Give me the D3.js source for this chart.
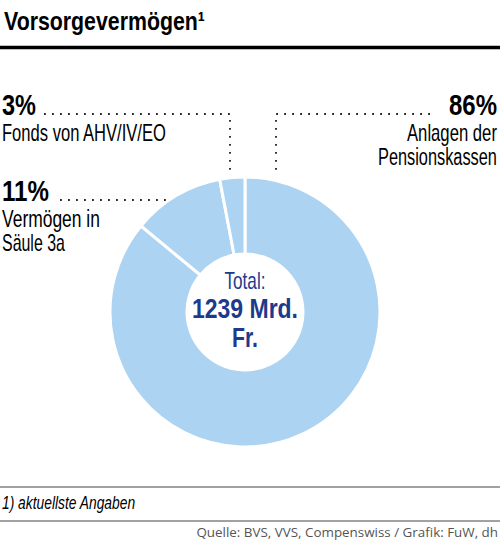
<!DOCTYPE html>
<html>
<head>
<meta charset="utf-8">
<script src="https://cdn.jsdelivr.net/npm/d3@7"></script>
<style>
  body { margin: 0; background: #fff; }
  svg { display: block; }
  .cond { font-family: "Liberation Sans", Arial, sans-serif; }
</style>
</head>
<body>
<svg id="chart" width="500" height="545"></svg>
<script>
// data
const categories = ["Anlagen der Pensionskassen", "Vermögen in Säule 3a", "Fonds von AHV/IV/EO"];
const shares = [86, 11, 3];
const labelLines = [["Anlagen der", "Pensionskassen"], ["Vermögen in", "Säule 3a"], ["Fonds von AHV/IV/EO"]];
const totalLines = ["Total:", "1239 Mrd.", "Fr."];

const W = 500, H = 545;
const cx = 245, cy = 312, rOuter = 135, rInner = 58;
const blue = "#acd3f1", navy = "#1e3a8c";

const svg = d3.select("#chart");

// condensed look: squeeze a regular font horizontally to the width measured on the original
function condText(parent, x, y, str, size, bold, anchor, width) {
    let t = parent.append("text")
        .attr("class", "cond")
        .style("font-size", size + "px")
        .style("font-weight", bold ? "bold" : "normal")
        .text(str);
    let natural = t.node().getComputedTextLength();
    let sx = width / natural;
    let x0 = x;
    if (anchor === "end") x0 = x - width;
    if (anchor === "middle") x0 = x - width / 2;
    t.attr("transform", "translate(" + x0 + "," + y + ") scale(" + sx + ",1)");
    return t;
}

// title
condText(svg, 4, 30, "Vorsorgevermögen¹", 25, true, "start", 201);

svg.append("line")
    .attr("x1", 0).attr("x2", W)
    .attr("y1", 47.5).attr("y2", 47.5)
    .style("stroke", "#000").style("stroke-width", 3.5);

// donut
let pie = d3.pie().sort(null).value(d => d);
let arc = d3.arc().innerRadius(rInner).outerRadius(rOuter);

let g = svg.append("g").attr("transform", "translate(" + cx + "," + cy + ")");

g.selectAll("path")
    .data(pie(shares))
    .enter().append("path")
    .attr("d", arc)
    .style("fill", blue)
    .style("stroke", "#fff")
    .style("stroke-width", 3);

// centre text
condText(g, 0, -23, totalLines[0], 23, false, "middle", 41).style("fill", navy);
condText(g, 0, 6, totalLines[1], 28, true, "middle", 106).style("fill", navy);
condText(g, 0, 35, totalLines[2], 28, true, "middle", 26).style("fill", navy);

// labels: index into shares, anchor and leader geometry
const labels = [
    {i: 2, x: 2, y: 115, anchor: "start", pctW: 34, lineW: [164], lineX0: 44, lineX1: 230, vertical: true},
    {i: 1, x: 2, y: 201, anchor: "start", pctW: 47, lineW: [98, 63], lineX0: 60, lineX1: 166, vertical: false},
    {i: 0, x: 497, y: 115, anchor: "end", pctW: 48, lineW: [90, 119], lineX0: 430, lineX1: 276, vertical: true}
];

function circleY(x) {
    let dx = x - cx;
    return cy - Math.sqrt(rOuter * rOuter - dx * dx);
}

labels.forEach(function (l) {
    condText(svg, l.x, l.y, shares[l.i] + "%", 29, true, l.anchor, l.pctW);

    labelLines[l.i].forEach(function (t, k) {
        condText(svg, l.x, l.y + 26 + k * 24, t, 23, false, l.anchor, l.lineW[k]);
    });

    let pts = [[l.lineX0, l.y - 1], [l.lineX1, l.y - 1]];
    if (l.vertical) pts.push([l.lineX1, circleY(l.lineX1) - 6]);
    svg.append("path")
        .attr("d", d3.line()(pts))
        .style("fill", "none")
        .style("stroke", "#222")
        .style("stroke-width", 1.8)
        .style("stroke-dasharray", "1.8,6.2");
});

// footer
svg.append("line").attr("x1", 0).attr("x2", W).attr("y1", 487).attr("y2", 487)
    .style("stroke", "#444").style("stroke-width", 1);
condText(svg, 2, 509, "1) aktuellste Angaben", 18, false, "start", 133)
    .style("font-style", "italic");
svg.append("line").attr("x1", 0).attr("x2", W).attr("y1", 521).attr("y2", 521)
    .style("stroke", "#444").style("stroke-width", 1);
svg.append("text")
    .attr("x", 498).attr("y", 537)
    .attr("text-anchor", "end")
    .style("font-family", "'Open Sans', sans-serif")
    .style("font-size", "13.4px").style("fill", "#555")
    .text("Quelle: BVS, VVS, Compenswiss / Grafik: FuW, dh");
</script>
</body>
</html>
